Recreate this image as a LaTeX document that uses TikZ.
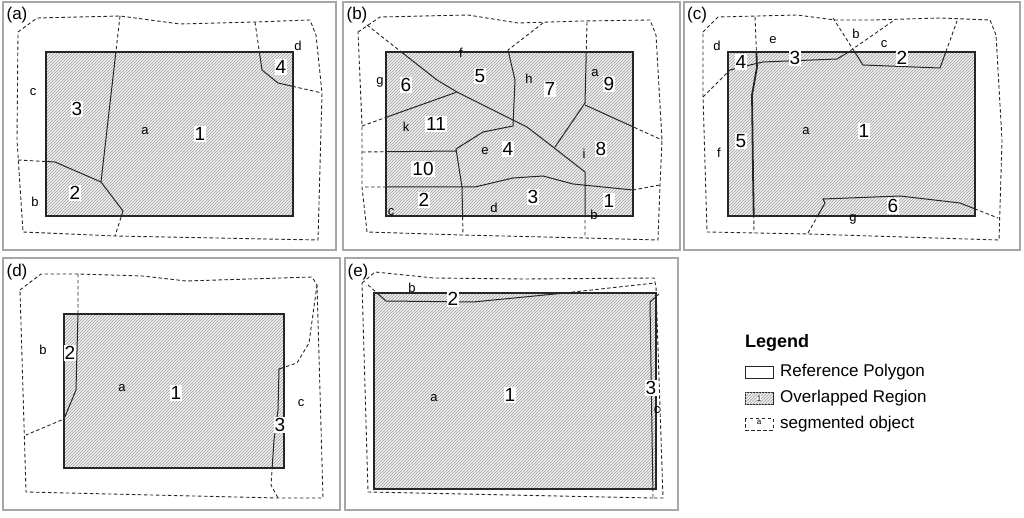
\documentclass[tikz,border=0pt]{standalone}
\usepackage{fontspec}
\setmainfont{Liberation Sans}
\usetikzlibrary{patterns}
\tikzset{
  frame/.style={draw=gray!70,line width=1.2pt},
  refpoly/.style={draw=black!85,line width=1.2pt,fill=gray!12,postaction={pattern=north east lines,pattern color=gray!75}},
  segline/.style={draw=black!85,line width=1pt},
  dashline/.style={draw=black!85,line width=0.9pt,dash pattern=on 3.5pt off 2.5pt},
  num/.style={fill=white,inner sep=1pt,font=\fontsize{19}{19}\selectfont},
  let/.style={inner sep=0pt,font=\fontsize{13}{13}\selectfont},
  ptitle/.style={inner sep=0pt,font=\fontsize{17}{17}\selectfont},
  leg/.style={anchor=west,inner sep=0pt,font=\fontsize{17}{17}\selectfont}
}
\newcommand\mysegs[4][segline]{%
  \begin{scope}\clip #2 rectangle #3; \draw[#1] #4; \end{scope}
  \begin{scope}[even odd rule]\clip (-10,-10) rectangle (1040,530) #2 rectangle #3; \draw[dashline] #4; \end{scope}}
\begin{document}
\begin{tikzpicture}[x=1pt,y=-1pt]
\useasboundingbox (0,0) rectangle (1024,518);
% frames
\draw[frame] (3,2) rectangle (336,250);
\draw[frame] (343,2) rectangle (680,250);
\draw[frame] (684,2) rectangle (1020,250);
\draw[frame] (3,258) rectangle (340,510);
\draw[frame] (345,258) rectangle (678,510);

%% (a)
\draw[refpoly] (46,52) rectangle (293,216);
\draw[dashline] (18,32)--(37,18)--(120,16)--(180,24)--(255,22)--(310,20)--(316,35)--(322,93)--(318,240)--(115,236)--(23,232)--(17,140)--cycle;
\mysegs{(46,52)}{(293,216)}{(120,16)--(101,182)--(123,211)--(115,236) (18,160)--(55,162)--(101,182) (255,22)--(262,70)--(278,83)--(322,93)}
\draw[black!85,line width=1.2pt] (46,52) rectangle (293,216);
\node[ptitle] (ta) at (17,15) {(a)};
\node[let] (ac) at (33,92) {c};
\node[num] (a3) at (77,109) {3};
\node[let] (aa) at (145,131) {a};
\node[num] (a1) at (200,134) {1};
\node[num] (a2) at (75,193) {2};
\node[let] (ab) at (35,202) {b};
\node[let] (ad) at (298,46) {d};
\node[num] (a4) at (281,67) {4};

%% (b)
\draw[refpoly] (386,52) rectangle (633,216);
\draw[dashline] (358,32)--(380,17)--(468,15)--(518,23)--(583,21)--(650,20)--(656,35)--(662,140)--(660,185)--(658,240)--(585,238)--(462,235)--(367,232)--(362,187)--(362,152)--(362,125)--cycle;
\mysegs{(386,52)}{(633,216)}{(367,25)--(437,80)--(457,92)--(527,127)--(553,147)--(585,172)--(585,238)
 (362,126)--(387,117)--(457,92)
 (543,23)--(508,50)--(515,80)--(513,126)--(483,132)--(456,149)--(462,187)--(463,235)
 (362,152)--(456,151)
 (587,22)--(585,103)--(555,147) (585,105)--(662,140)
 (365,187)--(387,187)--(475,187)--(513,178)--(543,176)--(573,184)--(633,190)--(660,185)}
\draw[black!85,line width=1.2pt] (386,52) rectangle (633,216);
\node[ptitle] (tb) at (357,15) {(b)};
\node[let] (bf) at (461,53) {f};
\node[num] (b5) at (480,76) {5};
\node[let] (bh) at (529,79) {h};
\node[num] (b7) at (550,89) {7};
\node[let] (ba) at (595,73) {a};
\node[num] (b9) at (609,84) {9};
\node[let] (bg) at (380,82) {g};
\node[num] (b6) at (406,85) {6};
\node[let] (bk) at (406,127) {k};
\node[num] (b11) at (436,124) {11};
\node[let] (be) at (485,151) {e};
\node[num] (b4) at (508,149) {4};
\node[let] (bi) at (584,154) {i};
\node[num] (b8) at (601,149) {8};
\node[num] (b10) at (423,169) {10};
\node[num] (b2) at (424,200) {2};
\node[num] (b3) at (533,197) {3};
\node[let] (bd) at (494,208) {d};
\node[num] (b1) at (609,201) {1};
\node[let] (bb) at (594,215) {b};
\node[let] (bc) at (391,212) {c};

%% (c)
\draw[refpoly] (728,52) rectangle (975,216);
\draw[dashline] (703,32)--(718,17)--(797,15)--(835,20)--(872,20)--(940,18)--(990,20)--(996,35)--(1002,140)--(999,240)--(808,234)--(707,232)--(703,95)--cycle;
\mysegs[segline,line width=1.8pt]{(728,52)}{(975,216)}{(755,17)--(757,67)--(752,95)--(753,173)--(754,233)}
\mysegs{(728,52)}{(975,216)}{(703,97)--(730,70)--(750,65)--(763,62)--(837,59)--(847,53)--(893,21)
 (833,18)--(863,65)--(940,68)--(957,21)
 (808,233)--(825,203)--(823,199)--(900,196)--(960,203)--(998,218)}
\draw[black!85,line width=1.2pt] (728,52) rectangle (975,216);
\node[ptitle] (tc) at (697,15) {(c)};
\node[let] (cd) at (717,46) {d};
\node[let] (ce) at (773,40) {e};
\node[num] (c3) at (795,58) {3};
\node[let] (cb) at (856,34) {b};
\node[let] (cc) at (884,44) {c};
\node[num] (c2) at (902,58) {2};
\node[num] (c4) at (741,62) {4};
\node[num] (c5) at (741,141) {5};
\node[let] (cf) at (719,153) {f};
\node[let] (ca) at (806,131) {a};
\node[num] (c1) at (864,131) {1};
\node[num] (c6) at (893,206) {6};
\node[let] (cg) at (853,219) {g};

%% (d)
\draw[refpoly] (64,314) rectangle (284,468);
\draw[dashline] (20,290)--(41,274)--(78,274)--(143,276)--(186,281)--(312,277)--(317,285)--(323,498)--(278,498)--(26,492)--cycle;
\mysegs{(64,314)}{(284,468)}{(78,274)--(78,313)--(76,390)--(64,419)--(26,435)
 (317,285)--(309,343)--(297,363)--(279,369)--(278,410)--(274,440)--(271,485)--(278,498)}
\draw[black!85,line width=1.2pt] (64,314) rectangle (284,468);
\node[ptitle] (td) at (17,272) {(d)};
\node[let] (db) at (43,350) {b};
\node[num] (d2) at (70,353) {2};
\node[let] (da) at (122,388) {a};
\node[num] (d1) at (176,393) {1};
\node[let] (dc) at (301,403) {c};
\node[num] (d3) at (280,425) {3};

%% (e)
\draw[refpoly] (374,293) rectangle (656,489);
\draw[dashline] (362,283)--(375,272)--(434,278)--(525,279)--(654,278)--(656,287)--(663,498)--(653,498) (653,498)--(368,492)--(362,283);
\mysegs{(374,293)}{(656,489)}{(368,285)--(377,293)--(386,301)--(473,302)--(555,294)--(655,283)
 (659,294)--(650,302)--(653,498)}
\draw[black!85,line width=1.2pt] (374,293) rectangle (656,489);
\node[ptitle] (te) at (358,272) {(e)};
\node[let] (eb) at (412,288) {b};
\node[num] (e2) at (453,299) {2};
\node[let] (ea) at (434,398) {a};
\node[num] (e1) at (510,395) {1};
\node[num] (e3) at (651,388) {3};
\node[let] (ec) at (657,410) {c};

%% legend
\node[leg,font=\bfseries\fontsize{18}{18}\selectfont] (lg) at (745,343) {Legend};
\draw[black!85,line width=1pt] (745,366) rectangle (773,378);
\node[leg] (l1) at (780,372) {Reference Polygon};
\draw[refpoly,line width=0.8pt] (745,392) rectangle (773,404);
\node[inner sep=0pt,fill=white,font=\fontsize{8}{8}\selectfont] (l2n) at (759,398.5) {1};
\node[leg] (l2) at (780,398) {Overlapped Region};
\draw[dashline] (745,418) rectangle (773,430);
\node[inner sep=0pt,font=\fontsize{8}{8}\selectfont] (l3n) at (759,422) {a};
\node[leg] (l3) at (780,424) {segmented object};
\end{tikzpicture}
\end{document}
